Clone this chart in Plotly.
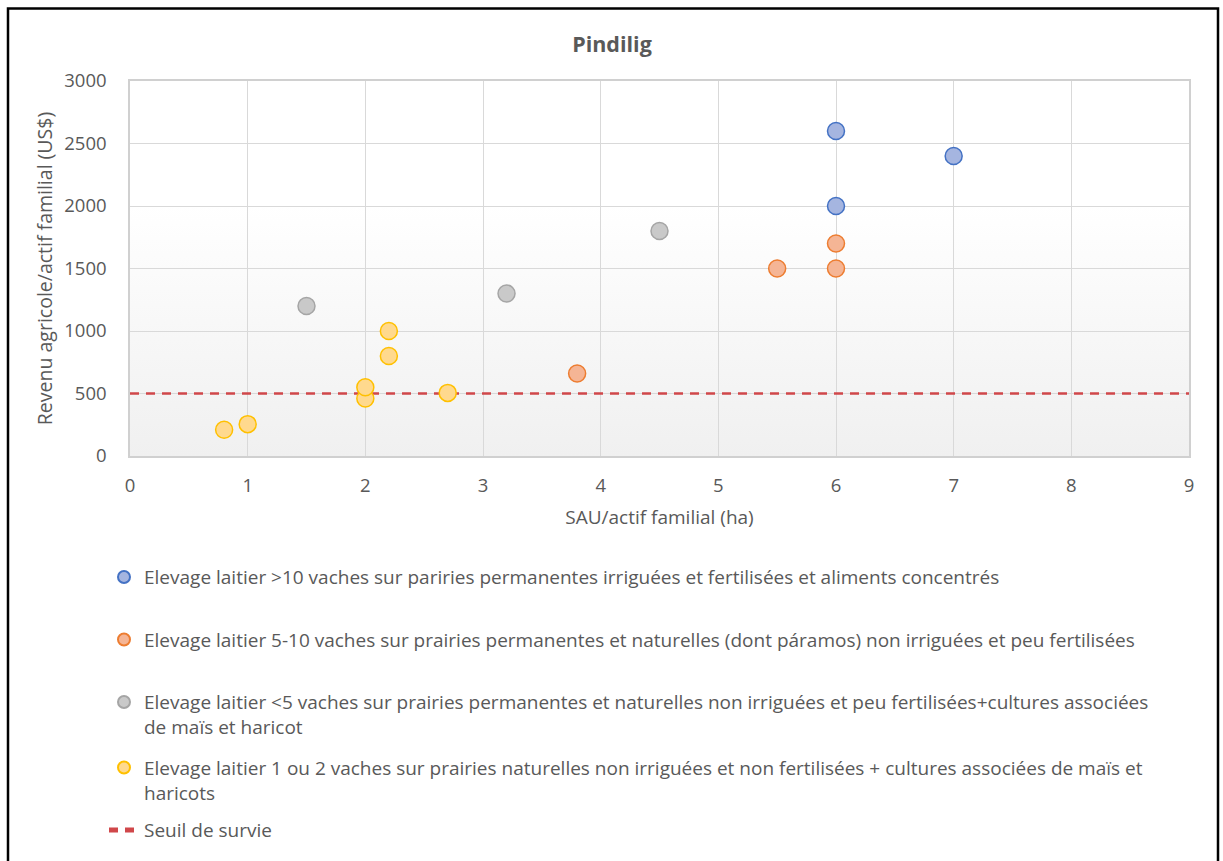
import base64
import plotly.graph_objects as go

# Surface agricole par actif (ha) et revenu agricole par actif (US$), par type d'élevage
blue_x = [6, 7, 6]
blue_y = [2600, 2400, 2000]
orange_x = [5.5, 6, 6, 3.8]
orange_y = [1500, 1700, 1500, 660]
grey_x = [1.5, 3.2, 4.5]
grey_y = [1200, 1300, 1800]
yellow_x = [0.8, 1, 2, 2, 2.2, 2.2, 2.7]
yellow_y = [210, 255, 460, 550, 800, 1000, 505]
seuil_x = [0, 9]
seuil_y = [500, 500]

names = [
    "Elevage laitier >10 vaches sur pariries permanentes irriguées et fertilisées et aliments concentrés",
    "Elevage laitier 5-10 vaches sur prairies permanentes et naturelles (dont páramos) non irriguées et peu fertilisées",
    "Elevage laitier &lt;5 vaches sur prairies permanentes et naturelles non irriguées et peu fertilisées+cultures associées<br>de maïs et haricot",
    "Elevage laitier 1 ou 2 vaches sur prairies naturelles non irriguées et non fertilisées + cultures associées de maïs et<br>haricots",
    "Seuil de survie",
]

FONT = "Open Sans"
GREY_TXT = "#595959"
W, H = 1223, 861
L, R, T, B = 130, 34, 81, 402
PW, PH = W - L - R, H - T - B


def px_x(px):
    return (px - L) / PW


def px_y(py):
    return (H - B - py) / PH


fig = go.Figure()

styles = [
    (blue_x, blue_y, "#A5B5E0", "#4472C4"),
    (orange_x, orange_y, "#F5B595", "#ED7D31"),
    (grey_x, grey_y, "#C9C9C9", "#A5A5A5"),
    (yellow_x, yellow_y, "#FFD98E", "#FFC000"),
]
legend_ids = ["legend", "legend2", "legend3", "legend4", "legend5"]

fig.add_trace(go.Scatter(
    x=seuil_x, y=seuil_y, mode="lines", name=names[4],
    line=dict(color="#D0474A", width=2.5, dash="9px,7px"),
    legend=legend_ids[4],
))

for i, (xs, ys, fill, edge) in enumerate(styles):
    fig.add_trace(go.Scatter(
        x=xs, y=ys, mode="markers", name=names[i],
        marker=dict(size=17, color=fill, line=dict(color=edge, width=1.5)),
        legend=legend_ids[i],
    ))

# Dégradé de fond de la zone de tracé
svg = (
    '<svg xmlns="http://www.w3.org/2000/svg" width="100" height="100" '
    'viewBox="0 0 100 100" preserveAspectRatio="none">'
    '<defs><linearGradient id="g" x1="0" y1="0" x2="0" y2="1">'
    '<stop offset="0" stop-color="#FFFFFF"/>'
    '<stop offset="0.33" stop-color="#FFFFFF"/>'
    '<stop offset="1" stop-color="#F0F0F0"/>'
    '</linearGradient></defs>'
    '<rect width="100" height="100" fill="url(#g)"/></svg>'
)
svg_uri = "data:image/svg+xml;base64," + base64.b64encode(svg.encode()).decode()
fig.add_layout_image(dict(
    source=svg_uri, xref="x", yref="y", x=0, y=3000, sizex=9, sizey=3000,
    sizing="stretch", layer="below", xanchor="left", yanchor="top",
))

# Cadre noir du graphique
fig.add_shape(
    type="rect", xref="paper", yref="paper",
    x0=px_x(8), x1=px_x(1218), y0=px_y(880), y1=px_y(8),
    line=dict(color="#000000", width=2.5), fillcolor="rgba(0,0,0,0)",
)

legend_tops = [562, 625, 688, 754, 817]
legend_layout = {}
for lid, top in zip(legend_ids, legend_tops):
    legend_layout[lid] = dict(
        x=px_x(104), xanchor="left", y=px_y(top), yanchor="top",
        bgcolor="rgba(0,0,0,0)", valign="top", itemsizing="constant",
        font=dict(family=FONT, size=19, color=GREY_TXT),
        itemclick=False, itemdoubleclick=False,
    )

fig.update_layout(
    width=W, height=H,
    margin=dict(l=L, r=R, t=T, b=B),
    paper_bgcolor="white",
    plot_bgcolor="rgba(0,0,0,0)",
    font=dict(family=FONT, color=GREY_TXT),
    title=dict(
        text="<b>Pindilig</b>", x=612 / W, xref="container", xanchor="center",
        y=1 - 44 / H, yref="container", yanchor="middle",
        font=dict(family=FONT, size=21.5, color=GREY_TXT),
    ),
    showlegend=True,
    **legend_layout,
)

fig.update_xaxes(
    range=[0, 9], dtick=1, tick0=0, showgrid=True, gridcolor="#D9D9D9", gridwidth=1,
    showline=True, linecolor="#D0D0D0", linewidth=1.5, mirror=True,
    zeroline=False, ticks="", ticklabelstandoff=12,
    tickfont=dict(family=FONT, size=18.5, color=GREY_TXT),
    title=dict(text="SAU/actif familial (ha)", standoff=15,
               font=dict(family=FONT, size=19, color=GREY_TXT)),
)
fig.update_yaxes(
    range=[0, 3000], dtick=500, tick0=0, showgrid=True, gridcolor="#D9D9D9", gridwidth=1,
    showline=True, linecolor="#D0D0D0", linewidth=1.5, mirror=True,
    zeroline=False, ticks="", ticklabelstandoff=18,
    tickfont=dict(family=FONT, size=18.5, color=GREY_TXT),
    title=dict(text="Revenu agricole/actif familial (US$)", standoff=6,
               font=dict(family=FONT, size=19.5, color=GREY_TXT)),
)

fig.write_html("out.html")
